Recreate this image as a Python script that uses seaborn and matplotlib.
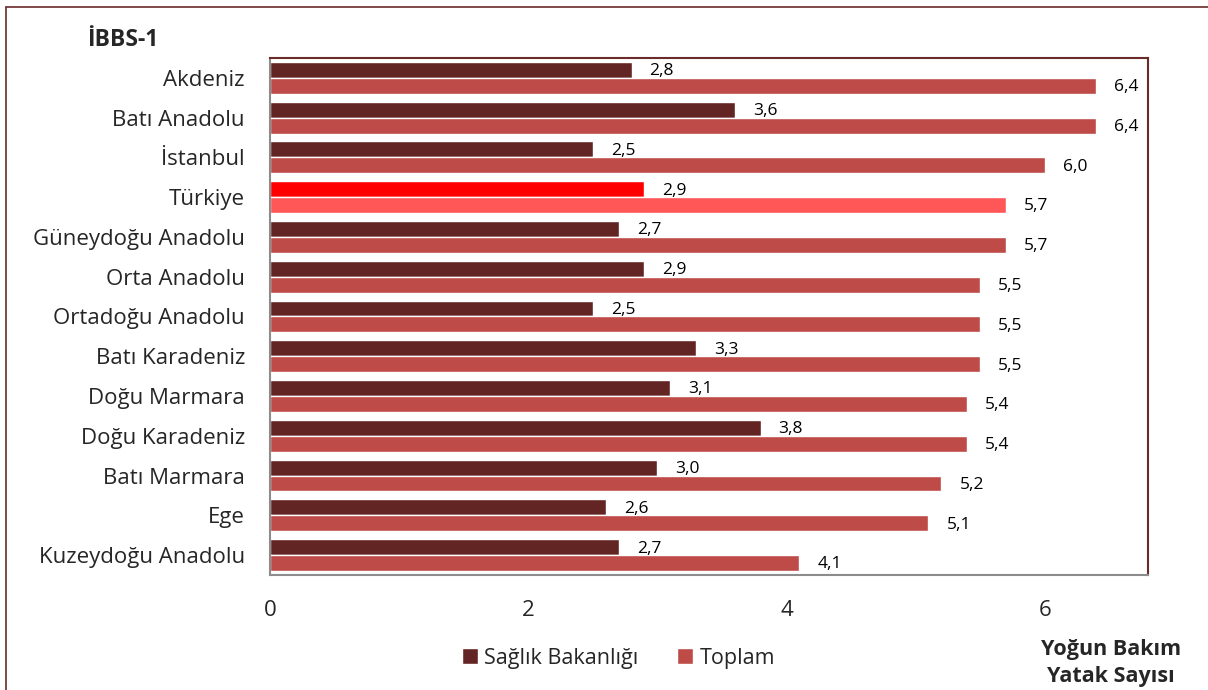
import numpy as np
import pandas as pd
import seaborn as sns
import matplotlib.pyplot as plt
from matplotlib.lines import Line2D
from matplotlib.patches import Patch

regions = ['Akdeniz', 'Batı Anadolu', 'İstanbul', 'Türkiye', 'Güneydoğu Anadolu',
           'Orta Anadolu', 'Ortadoğu Anadolu', 'Batı Karadeniz', 'Doğu Marmara',
           'Doğu Karadeniz', 'Batı Marmara', 'Ege', 'Kuzeydoğu Anadolu']
saglik = [2.8, 3.6, 2.5, 2.9, 2.7, 2.9, 2.5, 3.3, 3.1, 3.8, 3.0, 2.6, 2.7]
toplam = [6.4, 6.4, 6.0, 5.7, 5.7, 5.5, 5.5, 5.5, 5.4, 5.4, 5.2, 5.1, 4.1]
series = ['Sağlık Bakanlığı', 'Toplam']

dark = '#632523'
red = '#BE4B48'
tr_dark = '#FF0000'
tr_red = '#FF5757'

df = pd.DataFrame({
    'Bölge': regions * 2,
    'Değer': saglik + toplam,
    'Seri': [series[0]] * len(regions) + [series[1]] * len(regions),
})

sns.set_style('white')
plt.rcParams['font.family'] = ['Open Sans', 'DejaVu Sans']

fig = plt.figure(figsize=(12.08, 6.9), dpi=100)
ax = fig.add_axes([0.2235, 0.1667, 0.7268, 0.7493])

sns.barplot(data=df, y='Bölge', x='Değer', hue='Seri', order=regions,
            hue_order=series, palette=[dark, red], orient='h', width=0.8,
            saturation=1, legend=False, ax=ax)

# highlight Türkiye
ti = regions.index('Türkiye')
for cont, col in zip(ax.containers, [tr_dark, tr_red]):
    cont[ti].set_facecolor(col)

for cont, vals in zip(ax.containers, [saglik, toplam]):
    for bar, v in zip(cont, vals):
        y = bar.get_y() + bar.get_height() / 2
        ax.annotate(f'{v:.1f}'.replace('.', ','), (bar.get_width(), y),
                    xytext=(13, -1), textcoords='offset points',
                    ha='left', va='center', fontsize=12.5, color='black')

ax.set_xlim(0, 6.8)
ax.set_ylim(len(regions) - 0.5, -0.5)
ax.set_xticks([0, 2, 4, 6])
ax.set_xticklabels(['0', '2', '4', '6'], fontsize=16)
ax.set_xlabel('')
ax.set_ylabel('')
ax.tick_params(axis='y', which='major', length=0, labelsize=16, pad=18)
ax.set_yticks(np.arange(-0.5, len(regions)), minor=True)
ax.tick_params(axis='y', which='minor', length=6, color='#8c8c8c', width=1.2, direction='out')
ax.tick_params(axis='x', which='major', length=6, color='#8c8c8c', width=1.2, direction='out', pad=12)

for side in ['left', 'bottom']:
    ax.spines[side].set_color('#8c8c8c')
    ax.spines[side].set_linewidth(1.5)
for side in ['top', 'right']:
    ax.spines[side].set_color('#6b2b2b')
    ax.spines[side].set_linewidth(1.5)

fig.text(0.072, 0.942, 'İBBS-1', fontsize=16.5, fontweight='bold', ha='left', va='center')
fig.text(0.92, 0.039, 'Yoğun Bakım\nYatak Sayısı', fontsize=15.5, fontweight='bold',
         ha='center', va='center', linespacing=1.4)

handles = [Patch(facecolor=dark, label=series[0]), Patch(facecolor=red, label=series[1])]
fig.legend(handles=handles, loc='center', bbox_to_anchor=(0.512, 0.046), ncol=2,
           frameon=False, fontsize=15.5, handlelength=0.75, handleheight=0.75,
           handletextpad=0.3, columnspacing=1.8)

# outer chart frame
fig.add_artist(Line2D([0.005, 1.0], [0.99, 0.99], color='#6b2b2b', lw=1.2))
fig.add_artist(Line2D([0.005, 0.005], [0.0, 0.99], color='#6b2b2b', lw=1.2))

fig.savefig('out.png', dpi=100)
